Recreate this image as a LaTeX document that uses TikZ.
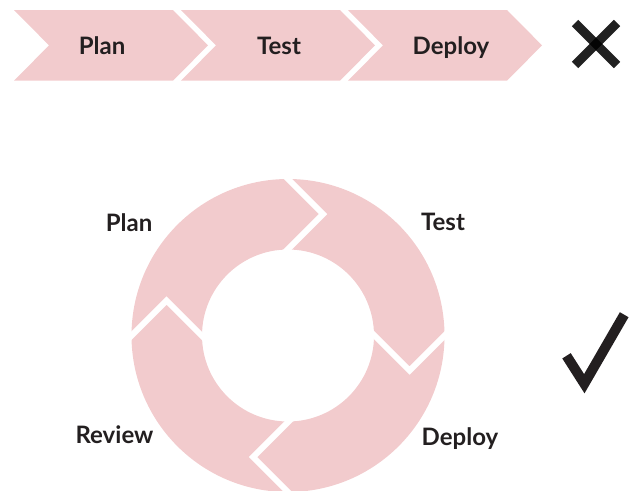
\documentclass[tikz,border=0pt]{standalone}
\usepackage{fontspec}
\setmainfont{Lato}

\definecolor{blush}{RGB}{242,203,205}
\definecolor{ink}{RGB}{35,31,32}

\tikzset{
    steptext/.style={font=\bfseries\fontsize{24}{24}\selectfont, text=ink, anchor=base, inner sep=0pt},
    cut/.style={draw=white, line width=6, line join=miter},
    verdict/.style={ink, line width=10}
}

\begin{document}
\begin{tikzpicture}[x=1pt, y=1pt]
        % everything is in points, y going down means negative numbers
        \useasboundingbox (0,0) rectangle (634,-490);

        % the straight line: three chevrons in a row
        % \i shifts each one to the right, the other values are the word and where it sits
        \foreach \i/\name/\word/\tx in {0/plan/Plan/102, 1/test/Test/279, 2/deploy/Deploy/451} {
            \fill[blush, xshift=167*\i] (14,-10) -- ++(159,0) -- ++(35,-35.35)
                -- ++(-35,-35.35) -- ++(-159,0) -- ++(35,35.35) -- cycle;
            \node[steptext] (line\name) at (\tx,-54.3) {\word};
        }

        % the cross after the row, two bars that overlap in the middle
        \draw[verdict, line width=9, draw opacity=0.87, draw=black] (575,-23) -- (617,-65);
        \draw[verdict, line width=9, draw opacity=0.87, draw=black] (575,-65) -- (617,-23);

        % the loop: one pink ring, then white cuts to split it in four arrows
        \coordinate (hub) at (288,-335.5);
        \fill[blush, even odd rule] (hub) circle[radius=156.5] circle[radius=86];
        \begin{scope}[shift={(hub)}]
            % the cut at the top points clockwise, rotating by -90 gives the next one
            \foreach \a in {0,90,180,270}
                \draw[cut, rotate=-\a] (-4,160.5) -- (35,121.5) -- (-4,82.5);
        \end{scope}

        \node[steptext] (loopplan) at (129,-231) {Plan};
        \node[steptext] (looptest) at (443,-230.7) {Test};
        \node[steptext] (loopdeploy) at (460,-445) {Deploy};
        \node[steptext] (loopreview) at (114.5,-443.3) {Review};

        % the tick next to the loop
        \draw[verdict, line join=miter] (566.5,-355.8) -- (584.3,-383.7) -- (624.2,-314.7);
    \end{tikzpicture}
\end{document}
